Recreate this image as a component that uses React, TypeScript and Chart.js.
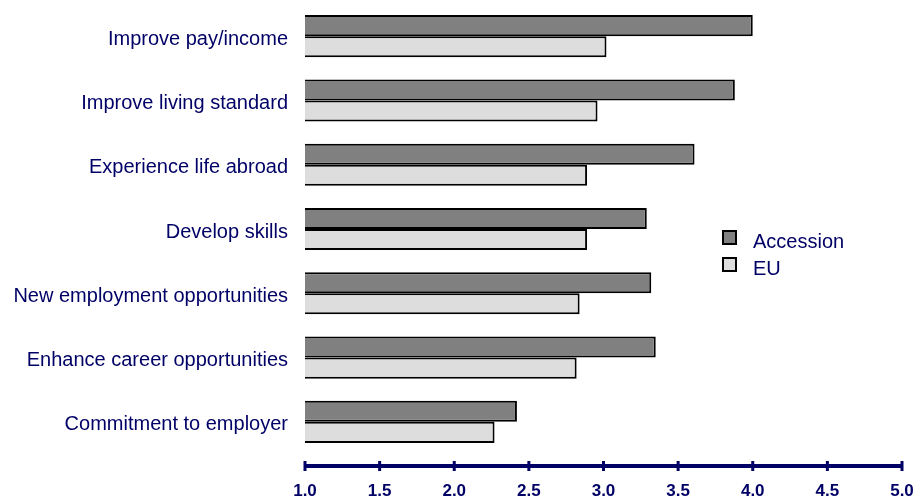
import React, { useEffect, useRef } from "react";
import { Chart, registerables } from "chart.js";

Chart.register(...registerables);

const categories = [
  "Improve pay/income",
  "Improve living standard",
  "Experience life abroad",
  "Develop skills",
  "New employment opportunities",
  "Enhance career opportunities",
  "Commitment to employer",
];
const accession = [4.0, 3.88, 3.61, 3.29, 3.32, 3.35, 2.42];
const eu = [3.02, 2.96, 2.89, 2.89, 2.84, 2.82, 2.27];
const seriesNames = ["Accession", "EU"];
const xMin = 1.0;
const xMax = 5.0;
const xStep = 0.5;

const NAVY = "#000066";
const DARK = "#808080";
const LIGHT = "#dddddd";
const FONT = "'Liberation Sans', Arial, Helvetica, sans-serif";

const axisPlugin = {
  id: "customAxisLegend",
  afterDraw(chart: any) {
    const ctx = chart.ctx;
    const area = chart.chartArea;
    const xs = chart.scales.x;
    const y = area.bottom + 12;
    ctx.save();
    ctx.strokeStyle = NAVY;
    ctx.lineWidth = 4;
    ctx.beginPath();
    ctx.moveTo(xs.getPixelForValue(xMin) - 1, y);
    ctx.lineTo(xs.getPixelForValue(xMax) + 1, y);
    ctx.stroke();
    ctx.lineWidth = 3;
    for (let v = xMin; v <= xMax + 1e-9; v += xStep) {
      const px = xs.getPixelForValue(v);
      ctx.beginPath();
      ctx.moveTo(px, y - 5);
      ctx.lineTo(px, y + 5);
      ctx.stroke();
    }
    // legend
    const lx = 722;
    const ly = 230;
    const colors = [DARK, LIGHT];
    seriesNames.forEach((name, i) => {
      const top = ly + i * 27;
      ctx.fillStyle = colors[i];
      ctx.fillRect(lx, top, 15, 15);
      ctx.strokeStyle = "#000000";
      ctx.lineWidth = 2;
      ctx.strokeRect(lx + 1, top + 1, 13, 13);
      ctx.fillStyle = NAVY;
      ctx.font = `20px ${FONT}`;
      ctx.textBaseline = "middle";
      ctx.textAlign = "left";
      ctx.fillText(name, 753, top + 12);
    });
    ctx.restore();
  },
};

export default function App() {
  const ref = useRef<HTMLCanvasElement>(null);
  useEffect(() => {
    document.body.style.margin = "0";
    const chart = new Chart(ref.current!, {
      type: "bar",
      data: {
        labels: categories,
        datasets: [
          {
            label: seriesNames[0],
            data: accession,
            backgroundColor: DARK,
            borderColor: "#000000",
            borderWidth: 2,
            categoryPercentage: 0.655,
            barPercentage: 1,
          },
          {
            label: seriesNames[1],
            data: eu,
            backgroundColor: LIGHT,
            borderColor: "#000000",
            borderWidth: 2,
            categoryPercentage: 0.655,
            barPercentage: 1,
          },
        ],
      },
      options: {
        indexAxis: "y",
        responsive: false,
        animation: false,
        devicePixelRatio: 1,
        layout: { padding: { top: 4, right: 13, left: 0, bottom: 0 } },
        plugins: { legend: { display: false }, tooltip: { enabled: false } },
        scales: {
          x: {
            type: "linear",
            min: xMin,
            max: xMax,
            grid: { display: false, drawTicks: false },
            border: { display: false },
            ticks: {
              stepSize: xStep,
              autoSkip: false,
              maxRotation: 0,
              padding: 27,
              color: NAVY,
              font: { family: FONT, size: 17, weight: "bold" },
              callback: (v: any) => Number(v).toFixed(1),
            },
            afterFit: (s: any) => {
              s.height = 46;
              s.paddingLeft = 0;
              s.paddingRight = 0;
            },
          },
          y: {
            type: "category",
            grid: { display: false, drawTicks: false },
            border: { display: false },
            ticks: {
              padding: 17,
              labelOffset: 3,
              color: NAVY,
              font: { family: FONT, size: 20 },
            },
            afterFit: (s: any) => {
              s.width = 305;
              s.paddingTop = 0;
              s.paddingBottom = 0;
            },
          },
        },
      },
      plugins: [axisPlugin],
    } as any);
    return () => chart.destroy();
  }, []);
  return (
    <div style={{ position: "fixed", left: 0, top: 0, width: 915, height: 500 }}>
      <canvas ref={ref} width={915} height={500} style={{ width: 915, height: 500 }} />
    </div>
  );
}
